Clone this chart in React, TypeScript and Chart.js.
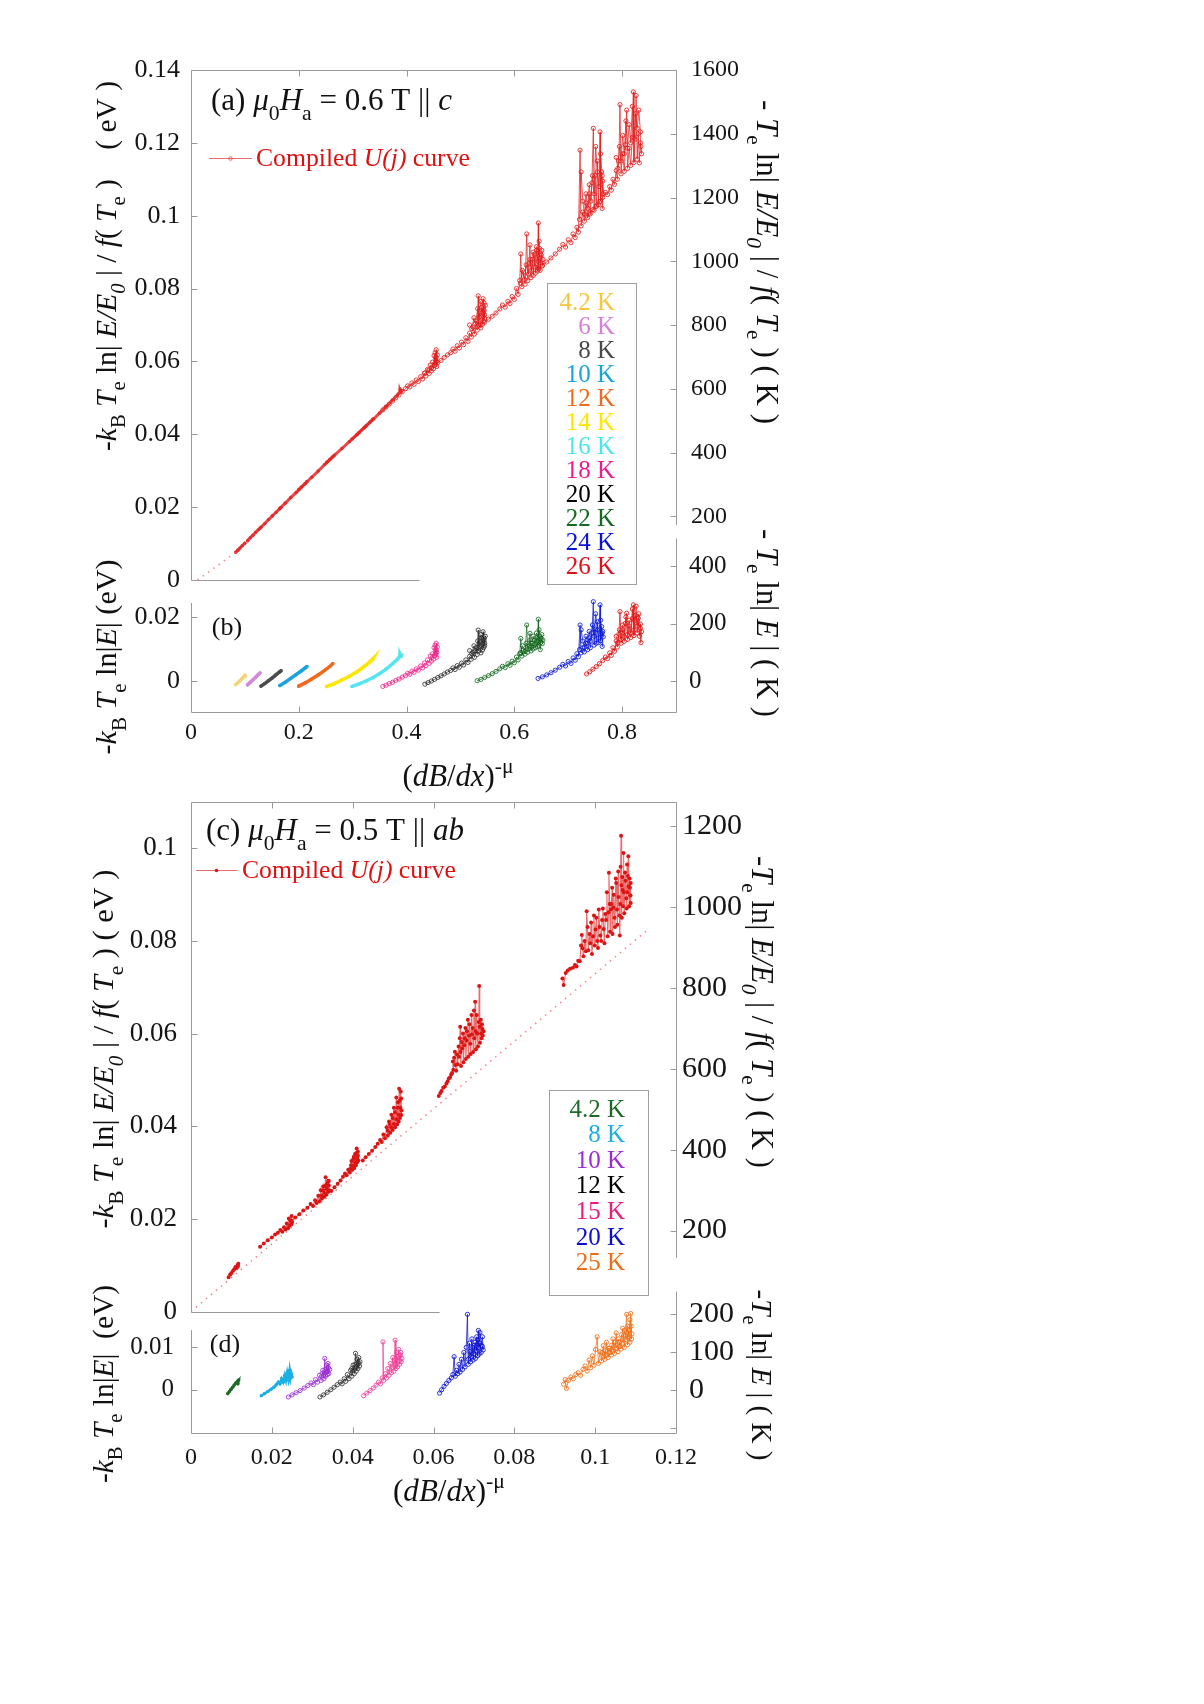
import React, { useEffect, useRef } from 'react';
import { Chart, registerables } from 'chart.js';
Chart.register(...registerables);

type P = [number, number];
const FONT = '"Liberation Serif", "Times New Roman", serif';
const AXC = '#9a9a9a';

// ---------------- Panel (b): -kB Te ln|E| (eV) vs (dB/dx)^-mu, 0.6 T || c ----------------
const bTemps = ['4.2 K', '6 K', '8 K', '10 K', '12 K', '14 K', '16 K', '18 K', '20 K', '22 K', '24 K', '26 K'];
const bLegendColors = ['#f8c53c', '#d97fd9', '#4a4a4a', '#18a2e0', '#f26a1a', '#ffe600', '#4ae6ef', '#ef1d8c', '#000000', '#146a22', '#0a12d6', '#e0101a'];
const bDataColors = ['#f3d57c', '#d38ad6', '#4d4d4d', '#1ba3df', '#ef6a1d', '#fce500', '#55e4f0', '#ee2a8e', '#333333', '#1a6b25', '#0d1bd3', '#e01515'];

const b42: P[] = [[0.083, -0.0011], [0.087, -0.0005], [0.091, 0.0001], [0.095, 0.0008], [0.099, 0.0015], [0.1, 0.0018]];
const b6: P[] = [[0.105, -0.0012], [0.11, -0.0004], [0.115, 0.0004], [0.12, 0.0012], [0.125, 0.002], [0.128, 0.0025]];
const b8: P[] = [[0.13, -0.0016], [0.137, -0.0008], [0.144, 0.0001], [0.151, 0.001], [0.158, 0.002], [0.164, 0.0028], [0.167, 0.0032]];
const b10: P[] = [[0.165, -0.0014], [0.175, -0.0004], [0.185, 0.0008], [0.195, 0.002], [0.205, 0.0032], [0.212, 0.0041], [0.215, 0.0045]];
const b12: P[] = [[0.2, -0.0016], [0.212, -0.0006], [0.224, 0.0006], [0.236, 0.0019], [0.248, 0.0033], [0.258, 0.0046], [0.263, 0.0054]];
const b14: P[] = [[0.252, -0.0017], [0.266, -0.0008], [0.28, 0.0003], [0.294, 0.0015], [0.308, 0.0029], [0.322, 0.0046], [0.332, 0.006], [0.338, 0.007], [0.336, 0.0064]];
const b16: P[] = [[0.299, -0.0017], [0.312, -0.0009], [0.325, 0.0], [0.338, 0.0011], [0.35, 0.0023], [0.362, 0.0037], [0.374, 0.0054], [0.383, 0.0068], [0.389, 0.008], [0.388, 0.0084], [0.39, 0.0077]];
const b18: P[] = [[0.356, -0.0017], [0.362, -0.0013], [0.368, -0.0008], [0.374, -0.0004], [0.38, 0.0002], [0.386, 0.0006], [0.392, 0.0012], [0.398, 0.0017], [0.402, 0.0024], [0.406, 0.0021], [0.41, 0.0031], [0.414, 0.0027], [0.418, 0.0038], [0.422, 0.0034], [0.426, 0.0047], [0.43, 0.0041], [0.433, 0.0056], [0.436, 0.0048], [0.439, 0.0066], [0.442, 0.0055], [0.444, 0.0078], [0.446, 0.0062], [0.448, 0.0085], [0.45, 0.0068], [0.451, 0.0104], [0.452, 0.0079], [0.453, 0.0112], [0.454, 0.0084], [0.455, 0.0097], [0.456, 0.0074], [0.457, 0.0106], [0.455, 0.0118], [0.456, 0.0089]];
const b20: P[] = [[0.434, -0.001], [0.44, -0.0005], [0.446, 0.0], [0.452, 0.0005], [0.458, 0.0011], [0.464, 0.0016], [0.47, 0.0022], [0.476, 0.0028], [0.482, 0.0033], [0.486, 0.0041], [0.49, 0.0036], [0.494, 0.0048], [0.498, 0.0043], [0.502, 0.0056], [0.506, 0.005], [0.51, 0.0066], [0.514, 0.0058], [0.517, 0.0077], [0.52, 0.0068], [0.523, 0.009], [0.526, 0.0074], [0.529, 0.0104], [0.531, 0.0083], [0.533, 0.0159], [0.534, 0.0094], [0.536, 0.0122], [0.538, 0.0088], [0.539, 0.0135], [0.541, 0.0097], [0.542, 0.0154], [0.543, 0.0104], [0.544, 0.0128], [0.545, 0.011], [0.546, 0.014], [0.545, 0.0118], [0.544, 0.0135], [0.541, 0.0118], [0.538, 0.0145], [0.535, 0.0108], [0.532, 0.0125], [0.528, 0.0095], [0.525, 0.011], [0.521, 0.0085], [0.517, 0.0095]];
const b22: P[] = [[0.531, 0.0001], [0.538, 0.0005], [0.545, 0.0011], [0.552, 0.0017], [0.559, 0.0023], [0.566, 0.003], [0.573, 0.0038], [0.578, 0.0046], [0.583, 0.0042], [0.588, 0.0054], [0.592, 0.0049], [0.596, 0.0062], [0.6, 0.0057], [0.604, 0.0075], [0.607, 0.0066], [0.61, 0.0085], [0.612, 0.0133], [0.614, 0.0078], [0.617, 0.0096], [0.62, 0.0084], [0.623, 0.0175], [0.625, 0.009], [0.627, 0.0108], [0.629, 0.0149], [0.631, 0.0094], [0.633, 0.0118], [0.635, 0.01], [0.637, 0.0127], [0.639, 0.0104], [0.641, 0.0135], [0.643, 0.0108], [0.6445, 0.0193], [0.645, 0.0112], [0.647, 0.014], [0.648, 0.0098], [0.65, 0.0132], [0.652, 0.0117], [0.653, 0.0128], [0.651, 0.0145], [0.649, 0.012], [0.646, 0.016], [0.644, 0.0125], [0.641, 0.015], [0.638, 0.0115], [0.635, 0.014], [0.632, 0.0108], [0.629, 0.0128], [0.626, 0.01], [0.622, 0.0118], [0.619, 0.0092], [0.615, 0.011], [0.611, 0.0088]];
const b24: P[] = [[0.644, 0.0008], [0.652, 0.0013], [0.66, 0.0019], [0.668, 0.0026], [0.676, 0.0034], [0.684, 0.0043], [0.69, 0.0052], [0.695, 0.0047], [0.7, 0.0061], [0.705, 0.0055], [0.709, 0.0072], [0.713, 0.0065], [0.716, 0.0085], [0.719, 0.0076], [0.722, 0.0175], [0.724, 0.0088], [0.727, 0.0104], [0.73, 0.0091], [0.733, 0.0118], [0.736, 0.0098], [0.739, 0.0135], [0.741, 0.0104], [0.744, 0.015], [0.7466, 0.0248], [0.748, 0.0112], [0.75, 0.0162], [0.752, 0.0118], [0.754, 0.0185], [0.756, 0.012], [0.759, 0.0238], [0.76, 0.0126], [0.762, 0.017], [0.763, 0.0108], [0.764, 0.0155], [0.765, 0.0138], [0.763, 0.015], [0.76, 0.019], [0.757, 0.0135], [0.754, 0.016], [0.751, 0.021], [0.748, 0.014], [0.745, 0.0175], [0.742, 0.0125], [0.739, 0.0155], [0.736, 0.0118], [0.733, 0.014], [0.73, 0.0105], [0.727, 0.0125], [0.724, 0.016], [0.721, 0.0098]];
const b26: P[] = [[0.734, 0.0022], [0.74, 0.0029], [0.746, 0.0037], [0.752, 0.0045], [0.758, 0.0054], [0.764, 0.0064], [0.769, 0.0075], [0.773, 0.007], [0.777, 0.0088], [0.78, 0.008], [0.783, 0.0104], [0.786, 0.0093], [0.789, 0.0125], [0.791, 0.0106], [0.794, 0.0146], [0.796, 0.0217], [0.798, 0.0118], [0.801, 0.016], [0.804, 0.0124], [0.806, 0.018], [0.8085, 0.0212], [0.81, 0.013], [0.813, 0.0172], [0.816, 0.0136], [0.819, 0.0195], [0.8208, 0.0238], [0.822, 0.0142], [0.824, 0.019], [0.826, 0.0234], [0.828, 0.015], [0.83, 0.0196], [0.832, 0.014], [0.834, 0.0178], [0.836, 0.0154], [0.835, 0.012], [0.834, 0.0165], [0.831, 0.021], [0.828, 0.0172], [0.825, 0.0205], [0.822, 0.016], [0.819, 0.0225], [0.816, 0.015], [0.813, 0.019], [0.81, 0.0145], [0.807, 0.02], [0.804, 0.014], [0.801, 0.0175], [0.798, 0.013], [0.795, 0.016], [0.792, 0.012], [0.789, 0.014]];
const bSeries = [b42, b6, b8, b10, b12, b14, b16, b18, b20, b22, b24, b26];

// ---------------- Panel (a): compiled U(j) curve (eV), segments per temperature ----------------
const a42: P[] = [[0.083, 0.0076], [0.087, 0.0082], [0.091, 0.0088], [0.095, 0.0094], [0.1, 0.0101]];
const a6: P[] = [[0.105, 0.0108], [0.11, 0.0116], [0.115, 0.0123], [0.12, 0.0131], [0.125, 0.0138], [0.128, 0.0142]];
const a8: P[] = [[0.13, 0.0145], [0.137, 0.0155], [0.144, 0.0166], [0.151, 0.0176], [0.158, 0.0186], [0.164, 0.0195], [0.167, 0.0199]];
const a10: P[] = [[0.165, 0.0197], [0.175, 0.0211], [0.185, 0.0226], [0.195, 0.024], [0.205, 0.0255], [0.212, 0.0265], [0.215, 0.027]];
const a12: P[] = [[0.2, 0.0248], [0.212, 0.0265], [0.224, 0.0282], [0.236, 0.0299], [0.248, 0.0317], [0.258, 0.0331], [0.263, 0.0338]];
const a14: P[] = [[0.252, 0.0323], [0.266, 0.0342], [0.28, 0.0361], [0.294, 0.038], [0.308, 0.0399], [0.322, 0.0419], [0.332, 0.0433], [0.338, 0.0442]];
const a16: P[] = [[0.299, 0.0387], [0.312, 0.0405], [0.325, 0.0423], [0.338, 0.0441], [0.35, 0.0458], [0.362, 0.0476], [0.374, 0.0494], [0.383, 0.0508], [0.389, 0.052], [0.388, 0.0523], [0.39, 0.0517]];
const a18: P[] = [[0.356, 0.0467], [0.362, 0.0475], [0.368, 0.0483], [0.374, 0.0491], [0.38, 0.05], [0.386, 0.0508], [0.392, 0.0517], [0.398, 0.0525], [0.402, 0.0533], [0.406, 0.053], [0.41, 0.0541], [0.414, 0.0537], [0.418, 0.0549], [0.422, 0.0545], [0.426, 0.0558], [0.43, 0.0552], [0.433, 0.0568], [0.436, 0.056], [0.439, 0.0578], [0.442, 0.0567], [0.444, 0.059], [0.446, 0.0574], [0.448, 0.0598], [0.45, 0.058], [0.451, 0.0616], [0.452, 0.059], [0.453, 0.0624], [0.454, 0.0596], [0.455, 0.061], [0.456, 0.0586], [0.457, 0.0618], [0.455, 0.0632], [0.456, 0.06]];
const a20: P[] = [[0.434, 0.0568], [0.44, 0.0575], [0.446, 0.0582], [0.452, 0.0589], [0.458, 0.0597], [0.464, 0.0603], [0.47, 0.0611], [0.476, 0.0618], [0.482, 0.0624], [0.486, 0.0634], [0.49, 0.0628], [0.494, 0.0643], [0.498, 0.0637], [0.502, 0.0653], [0.506, 0.0646], [0.51, 0.0665], [0.514, 0.0655], [0.517, 0.0678], [0.52, 0.0667], [0.523, 0.0694], [0.526, 0.0675], [0.529, 0.0711], [0.531, 0.0686], [0.533, 0.078], [0.534, 0.0699], [0.536, 0.0733], [0.538, 0.0692], [0.539, 0.0748], [0.541, 0.0702], [0.542, 0.0772], [0.543, 0.071], [0.544, 0.074], [0.545, 0.0718], [0.546, 0.0754], [0.545, 0.0728], [0.544, 0.076], [0.541, 0.0735], [0.538, 0.0765], [0.535, 0.0722], [0.532, 0.0745], [0.528, 0.0705], [0.525, 0.072], [0.521, 0.069], [0.517, 0.07]];
const a22: P[] = [[0.531, 0.0695], [0.538, 0.07], [0.545, 0.0708], [0.552, 0.0716], [0.559, 0.0724], [0.566, 0.0733], [0.573, 0.0744], [0.578, 0.0755], [0.583, 0.0749], [0.588, 0.0765], [0.592, 0.0759], [0.596, 0.0778], [0.6, 0.077], [0.604, 0.08], [0.607, 0.0784], [0.61, 0.0822], [0.612, 0.0895], [0.614, 0.0805], [0.617, 0.0845], [0.62, 0.0812], [0.623, 0.095], [0.625, 0.0822], [0.627, 0.0868], [0.629, 0.092], [0.631, 0.083], [0.633, 0.088], [0.635, 0.0836], [0.637, 0.0894], [0.639, 0.0842], [0.641, 0.0905], [0.643, 0.0848], [0.6445, 0.098], [0.645, 0.0853], [0.647, 0.091], [0.648, 0.085], [0.65, 0.0892], [0.652, 0.0862], [0.653, 0.088], [0.651, 0.0905], [0.649, 0.087], [0.646, 0.093], [0.644, 0.0875], [0.641, 0.0915], [0.638, 0.086], [0.635, 0.09], [0.632, 0.085], [0.629, 0.088], [0.626, 0.084], [0.622, 0.0865], [0.619, 0.0825], [0.615, 0.085], [0.611, 0.0815]];
const a24: P[] = [[0.644, 0.0856], [0.652, 0.0864], [0.66, 0.0873], [0.668, 0.0884], [0.676, 0.0895], [0.684, 0.0908], [0.69, 0.0921], [0.695, 0.0914], [0.7, 0.0934], [0.705, 0.0926], [0.709, 0.095], [0.713, 0.094], [0.716, 0.0968], [0.719, 0.0955], [0.722, 0.118], [0.724, 0.0972], [0.727, 0.101], [0.73, 0.0985], [0.733, 0.1035], [0.736, 0.0995], [0.739, 0.106], [0.741, 0.1005], [0.744, 0.109], [0.7466, 0.124], [0.748, 0.1015], [0.75, 0.111], [0.752, 0.1025], [0.754, 0.115], [0.756, 0.103], [0.759, 0.123], [0.76, 0.104], [0.762, 0.112], [0.763, 0.102], [0.764, 0.1095], [0.765, 0.106], [0.763, 0.111], [0.76, 0.117], [0.757, 0.108], [0.754, 0.112], [0.751, 0.119], [0.748, 0.106], [0.745, 0.111], [0.742, 0.104], [0.739, 0.1085], [0.736, 0.102], [0.733, 0.106], [0.73, 0.1005], [0.727, 0.104], [0.724, 0.112], [0.721, 0.099]];
const a26: P[] = [[0.734, 0.1], [0.74, 0.1008], [0.746, 0.1017], [0.752, 0.1027], [0.758, 0.1038], [0.764, 0.105], [0.769, 0.1064], [0.773, 0.1058], [0.777, 0.108], [0.78, 0.107], [0.783, 0.11], [0.786, 0.1086], [0.789, 0.1124], [0.791, 0.11], [0.794, 0.115], [0.796, 0.1305], [0.798, 0.1115], [0.801, 0.117], [0.804, 0.1122], [0.806, 0.1195], [0.8085, 0.129], [0.81, 0.113], [0.813, 0.1185], [0.816, 0.1138], [0.819, 0.1215], [0.8208, 0.134], [0.822, 0.1146], [0.824, 0.121], [0.826, 0.133], [0.828, 0.1155], [0.83, 0.1225], [0.832, 0.1145], [0.834, 0.12], [0.836, 0.117], [0.835, 0.119], [0.834, 0.123], [0.831, 0.129], [0.828, 0.124], [0.825, 0.128], [0.822, 0.1215], [0.819, 0.13], [0.816, 0.12], [0.813, 0.125], [0.81, 0.1185], [0.807, 0.126], [0.804, 0.117], [0.801, 0.122], [0.798, 0.115], [0.795, 0.119], [0.792, 0.113], [0.789, 0.116]];
const aSeries = [a42, a6, a8, a10, a12, a14, a16, a18, a20, a22, a24, a26];
const aFitLine: P[] = [[0.012, 0.0], [0.085, 0.0078]];

// ---------------- Panel (d): -kB Te ln|E| (eV), 0.5 T || ab ----------------
const dTemps = ['4.2 K', '8 K', '10 K', '12 K', '15 K', '20 K', '25 K'];
const dLegendColors = ['#1e6b28', '#1aafe6', '#9b2bd6', '#000000', '#f0197f', '#0a0fcf', '#f06c14'];
const dDataColors = ['#1e6b28', '#1aafe6', '#9b2bd6', '#333333', '#f0419a', '#0a12cf', '#f06c14'];
const d42: P[] = [[0.0091, -0.0009], [0.0095, -0.0004], [0.0099, 0.0001], [0.0103, 0.0006], [0.0107, 0.0011], [0.0111, 0.0016], [0.0115, 0.002], [0.0118, 0.0023], [0.0116, 0.0014]];
const d8: P[] = [[0.0174, -0.0014], [0.0182, -0.0009], [0.019, -0.0004], [0.0198, 0.0001], [0.0205, 0.0006], [0.0211, 0.0012], [0.0216, 0.0018], [0.022, 0.0014], [0.0224, 0.0026], [0.0228, 0.0018], [0.0232, 0.0034], [0.0235, 0.0022], [0.0238, 0.004], [0.0241, 0.0025], [0.0244, 0.0046], [0.0246, 0.0028], [0.0248, 0.0038], [0.025, 0.003]];
const d10: P[] = [[0.0241, -0.0017], [0.025, -0.0012], [0.026, -0.0007], [0.027, -0.0002], [0.028, 0.0004], [0.0289, 0.001], [0.0297, 0.0016], [0.0303, 0.0012], [0.0308, 0.0024], [0.0313, 0.0018], [0.0318, 0.0034], [0.0322, 0.0022], [0.0326, 0.0046], [0.0329, 0.0026], [0.0331, 0.0074], [0.0333, 0.0032], [0.0335, 0.0058], [0.0337, 0.0036], [0.0339, 0.0062], [0.0341, 0.0038], [0.0343, 0.0048], [0.034, 0.0052], [0.0336, 0.0042], [0.0332, 0.0048], [0.0328, 0.0034], [0.0324, 0.0038]];
const d12: P[] = [[0.0319, -0.0017], [0.0328, -0.0012], [0.0337, -0.0006], [0.0346, 0.0], [0.0354, 0.0006], [0.0362, 0.0012], [0.0369, 0.0018], [0.0374, 0.0014], [0.0379, 0.0026], [0.0383, 0.002], [0.0387, 0.0036], [0.0391, 0.0026], [0.0395, 0.0046], [0.0398, 0.0032], [0.0401, 0.0058], [0.0404, 0.0038], [0.0407, 0.0086], [0.0409, 0.0044], [0.0411, 0.0072], [0.0413, 0.005], [0.0415, 0.0076], [0.0417, 0.0056], [0.0418, 0.0066], [0.0414, 0.0064], [0.041, 0.0055], [0.0406, 0.006], [0.0402, 0.0046], [0.0398, 0.005]];
const d15: P[] = [[0.0427, -0.0014], [0.0435, -0.0008], [0.0443, -0.0002], [0.0451, 0.0004], [0.0458, 0.0011], [0.0464, 0.0018], [0.0469, 0.0014], [0.0473, 0.0028], [0.0475, 0.0113], [0.0477, 0.0022], [0.0481, 0.0038], [0.0484, 0.0028], [0.0487, 0.005], [0.049, 0.0034], [0.0493, 0.0062], [0.0496, 0.004], [0.0499, 0.0076], [0.0502, 0.0044], [0.0505, 0.0117], [0.0507, 0.005], [0.0509, 0.0088], [0.0511, 0.0054], [0.0514, 0.0095], [0.0516, 0.006], [0.0518, 0.0082], [0.052, 0.0066], [0.0522, 0.0074], [0.0519, 0.0088], [0.0515, 0.0068], [0.0511, 0.0078], [0.0507, 0.006], [0.0503, 0.007], [0.0499, 0.0052]];
const d20: P[] = [[0.0615, -0.0008], [0.062, 0.0], [0.0626, 0.0008], [0.0632, 0.0015], [0.0638, 0.0022], [0.0644, 0.0028], [0.0648, 0.0036], [0.0651, 0.0078], [0.0654, 0.0032], [0.0657, 0.0046], [0.066, 0.0038], [0.0663, 0.006], [0.0666, 0.0042], [0.0669, 0.0072], [0.0672, 0.0048], [0.0675, 0.0088], [0.0678, 0.0054], [0.0681, 0.01], [0.0684, 0.0178], [0.0686, 0.006], [0.0689, 0.011], [0.0692, 0.0066], [0.0695, 0.012], [0.0698, 0.007], [0.0701, 0.0105], [0.0704, 0.0074], [0.0707, 0.0125], [0.0709, 0.008], [0.0711, 0.014], [0.0713, 0.0084], [0.0715, 0.011], [0.0718, 0.0088], [0.0721, 0.0102], [0.0723, 0.0094], [0.0721, 0.0125], [0.0718, 0.0105], [0.0715, 0.0135], [0.0712, 0.01], [0.0709, 0.0118], [0.0706, 0.0092], [0.0703, 0.0112], [0.07, 0.0085], [0.0697, 0.01], [0.0694, 0.0078], [0.069, 0.009], [0.0686, 0.0072]];
const d25: P[] = [[0.0922, 0.0013], [0.0926, 0.0024], [0.0929, 0.0003], [0.0934, 0.0022], [0.094, 0.003], [0.0946, 0.0026], [0.0952, 0.0036], [0.0958, 0.004], [0.0964, 0.0034], [0.097, 0.0048], [0.0975, 0.0056], [0.098, 0.0044], [0.0985, 0.007], [0.0989, 0.0052], [0.0993, 0.008], [0.0997, 0.0058], [0.1001, 0.0095], [0.1005, 0.0125], [0.1008, 0.0062], [0.1012, 0.009], [0.1016, 0.0068], [0.102, 0.0104], [0.1024, 0.0072], [0.1028, 0.0112], [0.1032, 0.0076], [0.1036, 0.0098], [0.104, 0.0082], [0.1044, 0.012], [0.1048, 0.0086], [0.1052, 0.0134], [0.1056, 0.009], [0.106, 0.0112], [0.1064, 0.0096], [0.1068, 0.0145], [0.1072, 0.01], [0.1075, 0.0128], [0.1078, 0.0178], [0.108, 0.0106], [0.1083, 0.014], [0.1086, 0.0112], [0.1088, 0.018], [0.109, 0.012], [0.1091, 0.0132], [0.1089, 0.015], [0.1086, 0.0165], [0.1083, 0.0125], [0.108, 0.015], [0.1077, 0.0118], [0.1073, 0.014], [0.1069, 0.011], [0.1065, 0.013], [0.1061, 0.0102], [0.1057, 0.012], [0.1053, 0.0098], [0.1049, 0.0112], [0.1045, 0.0092], [0.1041, 0.0105], [0.1037, 0.0088], [0.1033, 0.0098], [0.1029, 0.0082], [0.1025, 0.0092], [0.1021, 0.0078], [0.1017, 0.0088]];
const dSeries = [d42, d8, d10, d12, d15, d20, d25];

// ---------------- Panel (c): compiled U(j) curve (eV) ----------------
const c42: P[] = [[0.0093, 0.0074], [0.0097, 0.008], [0.01, 0.0083], [0.0104, 0.0088], [0.0107, 0.0091], [0.011, 0.0096], [0.0113, 0.0094], [0.0115, 0.01], [0.0117, 0.0103], [0.0116, 0.0097]];
const c8: P[] = [[0.0171, 0.014], [0.018, 0.0147], [0.019, 0.0154], [0.02, 0.016], [0.0208, 0.0166], [0.0215, 0.017], [0.0221, 0.0176], [0.0226, 0.0172], [0.023, 0.0182], [0.0234, 0.0177], [0.0237, 0.019], [0.024, 0.018], [0.0242, 0.0201], [0.0244, 0.0185], [0.0246, 0.0196], [0.0248, 0.0188], [0.0249, 0.0206], [0.025, 0.0192]];
const c10: P[] = [[0.0249, 0.0196], [0.0258, 0.0203], [0.0268, 0.021], [0.0278, 0.0218], [0.0288, 0.0224], [0.0296, 0.0232], [0.0302, 0.0228], [0.0307, 0.024], [0.0311, 0.0234], [0.0315, 0.025], [0.0318, 0.0238], [0.0321, 0.0262], [0.0324, 0.0244], [0.0327, 0.027], [0.033, 0.0248], [0.0333, 0.029], [0.0335, 0.0252], [0.0337, 0.0276], [0.0339, 0.0258], [0.0341, 0.0282], [0.0342, 0.0262], [0.0341, 0.0272], [0.0339, 0.0282], [0.0336, 0.0265], [0.0333, 0.0272], [0.033, 0.0256], [0.0327, 0.0262], [0.0323, 0.025]];
const c12: P[] = [[0.0347, 0.026], [0.0355, 0.0268], [0.0363, 0.0276], [0.037, 0.0283], [0.0376, 0.0291], [0.0381, 0.0298], [0.0385, 0.0294], [0.0389, 0.0306], [0.0393, 0.03], [0.0396, 0.0316], [0.0399, 0.0306], [0.0402, 0.033], [0.0404, 0.031], [0.0406, 0.034], [0.0408, 0.0316], [0.041, 0.0352], [0.0411, 0.0322], [0.0413, 0.0336], [0.0414, 0.0326], [0.0413, 0.0345], [0.0411, 0.033], [0.0409, 0.0342], [0.0406, 0.0322], [0.0403, 0.0334], [0.04, 0.0314], [0.0397, 0.0325], [0.0394, 0.0308]];
const c15: P[] = [[0.0425, 0.0326], [0.0432, 0.0333], [0.044, 0.034], [0.0448, 0.0347], [0.0456, 0.0355], [0.0462, 0.0362], [0.0468, 0.037], [0.0472, 0.0366], [0.0476, 0.0382], [0.048, 0.0374], [0.0484, 0.0398], [0.0487, 0.038], [0.049, 0.041], [0.0493, 0.0386], [0.0496, 0.0425], [0.0499, 0.0392], [0.0502, 0.044], [0.0505, 0.0398], [0.0508, 0.0462], [0.051, 0.0404], [0.0512, 0.0452], [0.0514, 0.041], [0.0515, 0.0481], [0.0517, 0.0418], [0.0519, 0.0475], [0.052, 0.0424], [0.0521, 0.0434], [0.052, 0.046], [0.0518, 0.044], [0.0516, 0.0455], [0.0513, 0.0425], [0.0511, 0.044], [0.0508, 0.0415], [0.0505, 0.043], [0.0502, 0.0405], [0.0499, 0.0418], [0.0495, 0.0398], [0.0491, 0.0405], [0.0487, 0.039]];
const c20: P[] = [[0.0613, 0.0465], [0.0617, 0.0472], [0.062, 0.0476], [0.0624, 0.0483], [0.0628, 0.0486], [0.0632, 0.0492], [0.0635, 0.0497], [0.0638, 0.0503], [0.0641, 0.0506], [0.0644, 0.0512], [0.0646, 0.0515], [0.0648, 0.054], [0.0649, 0.0522], [0.0651, 0.0548], [0.0653, 0.0561], [0.0654, 0.0532], [0.0656, 0.052], [0.0658, 0.0555], [0.066, 0.0534], [0.0662, 0.0572], [0.0663, 0.055], [0.0665, 0.059], [0.0666, 0.0615], [0.0667, 0.056], [0.0668, 0.053], [0.067, 0.0582], [0.0671, 0.0568], [0.0673, 0.06], [0.0674, 0.0538], [0.0676, 0.0575], [0.0677, 0.059], [0.0679, 0.0612], [0.068, 0.0545], [0.0682, 0.0585], [0.0683, 0.0605], [0.0685, 0.063], [0.0686, 0.055], [0.0688, 0.0596], [0.0689, 0.062], [0.0691, 0.0578], [0.0692, 0.0556], [0.0694, 0.064], [0.0695, 0.0598], [0.0697, 0.0612], [0.0698, 0.056], [0.07, 0.065], [0.0701, 0.059], [0.0703, 0.0669], [0.0704, 0.0605], [0.0705, 0.0566], [0.0707, 0.064], [0.0708, 0.06], [0.071, 0.0572], [0.0712, 0.0625], [0.0713, 0.0703], [0.0714, 0.0615], [0.0715, 0.058], [0.0717, 0.063], [0.0718, 0.06], [0.0719, 0.059], [0.072, 0.062], [0.0721, 0.061], [0.0722, 0.0596], [0.0724, 0.0605]];
const c25: P[] = [[0.0919, 0.0719], [0.0922, 0.0705], [0.0927, 0.0731], [0.0932, 0.0736], [0.0938, 0.074], [0.0945, 0.0742], [0.095, 0.0748], [0.0954, 0.0745], [0.0958, 0.0757], [0.0962, 0.0756], [0.0965, 0.079], [0.0967, 0.0813], [0.0969, 0.0784], [0.0971, 0.0767], [0.0974, 0.08], [0.0977, 0.0778], [0.0979, 0.0864], [0.0981, 0.083], [0.0983, 0.078], [0.0986, 0.0815], [0.0988, 0.0795], [0.099, 0.084], [0.0992, 0.0772], [0.0995, 0.081], [0.0997, 0.0855], [0.0999, 0.079], [0.1001, 0.0825], [0.1003, 0.085], [0.1005, 0.08], [0.1007, 0.0785], [0.1009, 0.0868], [0.1011, 0.083], [0.1013, 0.0812], [0.1015, 0.08], [0.1017, 0.0845], [0.1019, 0.087], [0.1021, 0.0826], [0.1023, 0.0795], [0.1025, 0.0858], [0.1027, 0.0845], [0.1029, 0.0905], [0.1031, 0.081], [0.1033, 0.0862], [0.1034, 0.0947], [0.1036, 0.088], [0.1037, 0.082], [0.1039, 0.0868], [0.104, 0.088], [0.1042, 0.0915], [0.1043, 0.0815], [0.1045, 0.0872], [0.1046, 0.09], [0.1048, 0.085], [0.1049, 0.083], [0.1051, 0.0935], [0.1052, 0.0925], [0.1054, 0.0868], [0.1055, 0.0835], [0.1057, 0.095], [0.1058, 0.0895], [0.106, 0.0855], [0.1061, 0.0812], [0.1062, 0.088], [0.1063, 0.096], [0.1064, 0.1027], [0.1065, 0.092], [0.1066, 0.085], [0.1067, 0.0938], [0.1068, 0.091], [0.1069, 0.0875], [0.107, 0.099], [0.1071, 0.0905], [0.1072, 0.086], [0.1074, 0.0948], [0.1075, 0.093], [0.1077, 0.0892], [0.1078, 0.087], [0.1079, 0.0965], [0.108, 0.0905], [0.1081, 0.094], [0.1082, 0.0983], [0.1083, 0.0918], [0.1084, 0.0875], [0.1085, 0.0935], [0.1086, 0.0915], [0.1087, 0.0898], [0.1088, 0.0882], [0.1088, 0.0925], [0.1087, 0.0898]];
const cSeries = [c42, c8, c10, c12, c15, c20, c25];
const cFitLine: P[] = [[0.0, 0.0], [0.1134, 0.0827]];

// ---------------- Tick values / labels ----------------
const abXTicks = [0, 0.2, 0.4, 0.6, 0.8];
const abXLabels = ['0', '0.2', '0.4', '0.6', '0.8'];
const aYTicks = [0, 0.02, 0.04, 0.06, 0.08, 0.1, 0.12, 0.14];
const aYLabels = ['0', '0.02', '0.04', '0.06', '0.08', '0.1', '0.12', '0.14'];
const aY2Ticks = [200, 400, 600, 800, 1000, 1200, 1400, 1600];
const aY2Labels = ['200', '400', '600', '800', '1000', '1200', '1400', '1600'];
const bYTicks = [0, 0.02];
const bYLabels = ['0', '0.02'];
const bY2Ticks = [0, 200, 400];
const bY2Labels = ['0', '200', '400'];
const cdXTicks = [0, 0.02, 0.04, 0.06, 0.08, 0.1, 0.12];
const cdXLabels = ['0', '0.02', '0.04', '0.06', '0.08', '0.1', '0.12'];
const cYTicks = [0, 0.02, 0.04, 0.06, 0.08, 0.1];
const cYLabels = ['0', '0.02', '0.04', '0.06', '0.08', '0.1'];
const cY2Ticks = [200, 400, 600, 800, 1000, 1200];
const cY2Labels = ['200', '400', '600', '800', '1000', '1200'];
const dYTicks = [0, 0.01];
const dYLabels = ['0', '0.01'];
const dY2Ticks = [0, 100, 200];
const dY2Labels = ['0', '100', '200'];

// ---------------- helpers ----------------
type Run = { t: string; i?: boolean; sub?: boolean; sup?: boolean };
const runFont = (r: Run, s: number) => `${r.i ? 'italic ' : ''}${(r.sub || r.sup) ? s * 0.7 : s}px ${FONT}`;
function runsWidth(ctx: CanvasRenderingContext2D, runs: Run[], s: number) {
  let w = 0;
  for (const r of runs) { ctx.font = runFont(r, s); w += ctx.measureText(r.t).width; }
  return w;
}
function drawRuns(ctx: CanvasRenderingContext2D, runs: Run[], x: number, y: number, o: any) {
  let s = o.size ?? 24;
  if (o.fit) s = 20 * o.fit / runsWidth(ctx, runs, 20);
  const w = runsWidth(ctx, runs, s);
  ctx.save();
  ctx.translate(x, y);
  ctx.rotate(o.rot ?? 0);
  ctx.fillStyle = o.color ?? '#111';
  ctx.textBaseline = 'alphabetic';
  ctx.textAlign = 'left';
  let cx = o.align === 'center' ? -w / 2 : o.align === 'right' ? -w : 0;
  for (const r of runs) {
    ctx.font = runFont(r, s);
    const dy = r.sub ? s * 0.32 : r.sup ? -s * 0.42 : 0;
    ctx.fillText(r.t, cx, s * 0.33 + dy);
    cx += ctx.measureText(r.t).width;
  }
  ctx.restore();
}
function seg(ctx: CanvasRenderingContext2D, x1: number, y1: number, x2: number, y2: number) {
  ctx.beginPath(); ctx.moveTo(x1, y1); ctx.lineTo(x2, y2); ctx.stroke();
}
const R = (v: number) => Math.round(v) + 0.5;
function rgba(hex: string, a: number) {
  const n = parseInt(hex.slice(1), 16);
  return `rgba(${(n >> 16) & 255},${(n >> 8) & 255},${n & 255},${a})`;
}

const AXW = 120;
function yScale(pos: string, min: number, max: number, ticks: number[], labels: string[], size: number, pad: number) {
  return {
    type: 'linear', position: pos, min, max,
    grid: { display: false, drawTicks: false }, border: { display: false },
    ticks: {
      autoSkip: false, padding: pad, color: '#151515', font: { family: FONT, size },
      callback: (v: number) => { const k = ticks.findIndex((t) => Math.abs(t - v) < 1e-9); return k >= 0 ? labels[k] : ''; },
    },
    afterBuildTicks: (s: any) => { s.ticks = ticks.map((v) => ({ value: v })); },
    afterFit: (s: any) => { s.width = AXW; },
  };
}
function xScale(min: number, max: number, show: boolean, ticks: number[], labels: string[], pad: number) {
  return {
    type: 'linear', position: 'bottom', min, max, display: show,
    grid: { display: false, drawTicks: false }, border: { display: false },
    ticks: {
      autoSkip: false, maxRotation: 0, padding: pad, color: '#151515', font: { family: FONT, size: 24 },
      callback: (v: number) => { const k = ticks.findIndex((t) => Math.abs(t - v) < 1e-9); return k >= 0 ? labels[k] : ''; },
    },
    afterBuildTicks: (s: any) => { s.ticks = ticks.map((v) => ({ value: v })); },
    afterFit: (s: any) => { s.height = show ? 50 : 0; },
  };
}

const noisy = (data: P[], color: string, yAxisID = 'y') => ({
  data: data.map(([x, y]) => ({ x, y })), showLine: true, yAxisID,
  borderColor: rgba(color, 0.75), borderWidth: 1,
  pointRadius: 2.1, pointBorderWidth: 1, pointBorderColor: rgba(color, 0.85), pointBackgroundColor: 'rgba(255,255,255,0)',
});
const thick = (data: P[], color: string, w = 3.5) => ({
  data: data.map(([x, y]) => ({ x, y })), showLine: true, yAxisID: 'y',
  borderColor: color, borderWidth: w, borderCapStyle: 'round',
  pointRadius: 1.8, pointBorderWidth: 0, pointBackgroundColor: color,
});
const dotted = (data: P[]) => ({
  data: data.map(([x, y]) => ({ x, y })), showLine: true, yAxisID: 'y',
  borderColor: 'rgba(240,110,110,0.85)', borderWidth: 1.5, borderDash: [1.5, 5], pointRadius: 0,
});

// ---------------- rich texts ----------------
const leftTitleLong = (tail: string): Run[] => [
  { t: '-' }, { t: 'k', i: true }, { t: 'B', sub: true }, { t: ' ' }, { t: 'T', i: true }, { t: 'e', sub: true },
  { t: ' ln| ' }, { t: 'E/E', i: true }, { t: '0', i: true, sub: true }, { t: ' | / ' }, { t: 'f', i: true }, { t: '( ' },
  { t: 'T', i: true }, { t: 'e', sub: true }, { t: tail },
];
const leftTitleShort = (tail: string): Run[] => [
  { t: '-' }, { t: 'k', i: true }, { t: 'B', sub: true }, { t: ' ' }, { t: 'T', i: true }, { t: 'e', sub: true },
  { t: ' ln|' }, { t: 'E', i: true }, { t: tail },
];
const rightTitleLong = (head: string): Run[] => [
  { t: head }, { t: 'T', i: true }, { t: 'e', sub: true }, { t: ' ln| ' }, { t: 'E/E', i: true }, { t: '0', i: true, sub: true },
  { t: ' | / ' }, { t: 'f', i: true }, { t: '( ' }, { t: 'T', i: true }, { t: 'e', sub: true }, { t: ' ) ( K )' },
];
const rightTitleShort = (head: string): Run[] => [
  { t: head }, { t: 'T', i: true }, { t: 'e', sub: true }, { t: ' ln| ' }, { t: 'E', i: true }, { t: ' | ( K )' },
];
const xTitle: Run[] = [{ t: '(' }, { t: 'dB', i: true }, { t: '/' }, { t: 'dx', i: true }, { t: ')' }, { t: '-\u03bc', sup: true }];
const titleA: Run[] = [{ t: '(a) ' }, { t: '\u03bc', i: true }, { t: '0', sub: true }, { t: 'H', i: true }, { t: 'a', sub: true }, { t: ' = 0.6 T || ' }, { t: 'c', i: true }];
const titleC: Run[] = [{ t: '(c) ' }, { t: '\u03bc', i: true }, { t: '0', sub: true }, { t: 'H', i: true }, { t: 'a', sub: true }, { t: ' = 0.5 T || ' }, { t: 'ab', i: true }];
const compiledText: Run[] = [{ t: 'Compiled ' }, { t: 'U(j)', i: true }, { t: ' curve' }];

function compiledLegend(ctx: CanvasRenderingContext2D, x1: number, x2: number, tx: number, y: number, filled: boolean) {
  ctx.save();
  ctx.strokeStyle = 'rgba(230,70,70,0.8)'; ctx.lineWidth = 1;
  seg(ctx, x1, R(y), x2, R(y));
  ctx.beginPath(); ctx.arc((x1 + x2) / 2, R(y), 1.8, 0, Math.PI * 2);
  if (filled) { ctx.fillStyle = '#d81818'; ctx.fill(); } else { ctx.stroke(); }
  ctx.restore();
  drawRuns(ctx, compiledText, tx, y, { fit: 214, color: '#e01010' });
}

function legendBox(ctx: CanvasRenderingContext2D, x: number, y: number, w: number, h: number, names: string[], colors: string[], rx: number, y0: number, dy: number) {
  ctx.save();
  ctx.strokeStyle = '#a0a0a0'; ctx.lineWidth = 1;
  ctx.strokeRect(R(x), R(y), Math.round(w), Math.round(h));
  ctx.font = `25px ${FONT}`; ctx.textAlign = 'right'; ctx.textBaseline = 'middle';
  names.forEach((n, i) => { ctx.fillStyle = colors[i]; ctx.fillText(n, rx, y0 + i * dy + 1); });
  ctx.restore();
}

function makeChart(canvas: HTMLCanvasElement, datasets: any[], scales: any, padding: any, decor: (c: any) => void) {
  return new Chart(canvas, {
    type: 'scatter',
    data: { datasets },
    options: {
      animation: false, responsive: false, devicePixelRatio: 1,
      layout: { padding },
      plugins: { legend: { display: false }, tooltip: { enabled: false } },
      scales,
    },
    plugins: [{ id: 'decor', afterDraw: (c: any) => decor(c) }],
  } as any);
}

const TL = 6;
const PADL = 191 - AXW;
const PADR = 1204 - 676 - AXW;
function buildA(canvas: HTMLCanvasElement) {
  const ds: any[] = [dotted(aFitLine)];
  aSeries.forEach((s, i) => {
    if (i < 7) ds.push(thick(s, 'rgba(228,40,40,0.85)', 3));
    else ds.push(noisy(s, '#e02020'));
  });
  return makeChart(canvas, ds, {
    x: xScale(0, 0.9, false, abXTicks, abXLabels, 6),
    y: yScale('left', 0, 0.14, aYTicks, aYLabels, 26, 11),
    y2: yScale('right', 0, 1600, aY2Ticks, aY2Labels, 24, 15),
  }, { left: PADL, right: PADR, top: 70, bottom: 1124 }, (c: any) => {
    const ctx = c.ctx, x = c.scales.x, y = c.scales.y, y2 = c.scales.y2;
    const L = R(x.left), Rr = R(x.right), T = R(y.top), B = R(y.bottom);
    ctx.save(); ctx.strokeStyle = AXC; ctx.lineWidth = 1;
    seg(ctx, L, T, L, B); seg(ctx, L, T, Rr, T); seg(ctx, Rr, T, Rr, 525); seg(ctx, L, B, R(x.getPixelForValue(0.424)), B);
    aYTicks.forEach((v) => { const p = R(y.getPixelForValue(v)); seg(ctx, L, p, L + TL, p); });
    aY2Ticks.forEach((v) => { const p = R(y2.getPixelForValue(v)); seg(ctx, Rr, p, Rr - TL, p); });
    abXTicks.slice(1).forEach((v) => { const p = R(x.getPixelForValue(v)); seg(ctx, p, T, p, T + TL); });
    ctx.restore();
    drawRuns(ctx, titleA, 211, 100, { fit: 241 });
    compiledLegend(ctx, 209, 252, 256, 158, false);
    legendBox(ctx, 547, 283, 89, 301, bTemps, bLegendColors, 615, 302, 24);
    drawRuns(ctx, leftTitleLong(' )    ( eV )'), 106, 266, { fit: 370, rot: -Math.PI / 2, align: 'center' });
    drawRuns(ctx, rightTitleLong('- '), 767, 262, { fit: 324, rot: Math.PI / 2, align: 'center' });
  });
}

function buildB(canvas: HTMLCanvasElement) {
  const ds: any[] = bSeries.map((s, i) => (i < 7 ? thick(s, bDataColors[i], 3.5) : noisy(s, bDataColors[i])));
  return makeChart(canvas, ds, {
    x: xScale(0, 0.9, true, abXTicks, abXLabels, 6),
    y: yScale('left', -0.00969, 0.0447, bYTicks, bYLabels, 26, 11),
    y2: yScale('right', -107.8, 497.4, bY2Ticks, bY2Labels, 25, 13),
  }, { left: PADL, right: PADR, top: 538, bottom: 942 }, (c: any) => {
    const ctx = c.ctx, x = c.scales.x, y = c.scales.y, y2 = c.scales.y2;
    const L = R(x.left), Rr = R(x.right), T = R(y.top), B = R(y.bottom);
    ctx.save(); ctx.strokeStyle = AXC; ctx.lineWidth = 1;
    seg(ctx, L, 603, L, B); seg(ctx, L, B, Rr, B); seg(ctx, Rr, T, Rr, B);
    bYTicks.forEach((v) => { const p = R(y.getPixelForValue(v)); seg(ctx, L, p, L + TL, p); });
    bY2Ticks.forEach((v) => { const p = R(y2.getPixelForValue(v)); seg(ctx, Rr, p, Rr - TL, p); });
    abXTicks.slice(1).forEach((v) => { const p = R(x.getPixelForValue(v)); seg(ctx, p, B, p, B - TL); });
    ctx.restore();
    drawRuns(ctx, [{ t: '(b)' }], 227, 626, { size: 26, align: 'center' });
    drawRuns(ctx, xTitle, 458, 776, { fit: 111, align: 'center' });
    drawRuns(ctx, leftTitleShort('| (eV)'), 106, 657, { fit: 195, rot: -Math.PI / 2, align: 'center' });
    drawRuns(ctx, rightTitleShort('- '), 767, 623, { fit: 188, rot: Math.PI / 2, align: 'center' });
  });
}

function buildC(canvas: HTMLCanvasElement) {
  const ds: any[] = [dotted(cFitLine)];
  cSeries.forEach((s) => ds.push({
    data: s.map(([x, y]) => ({ x, y })), showLine: true, yAxisID: 'y',
    borderColor: 'rgba(225,30,30,0.65)', borderWidth: 1.1,
    pointRadius: 2, pointBorderWidth: 0, pointBackgroundColor: '#dc1414',
  }));
  return makeChart(canvas, ds, {
    x: xScale(0, 0.12, false, cdXTicks, cdXLabels, 6),
    y: yScale('left', 0, 0.11, cYTicks, cYLabels, 27, 14),
    y2: yScale('right', 0, 1259, cY2Ticks, cY2Labels, 30, 6),
  }, { left: PADL, right: PADR, top: 802, bottom: 392.5 }, (c: any) => {
    const ctx = c.ctx, x = c.scales.x, y = c.scales.y, y2 = c.scales.y2;
    const L = R(x.left), Rr = R(x.right), T = R(y.top), B = R(y.bottom);
    ctx.save(); ctx.strokeStyle = AXC; ctx.lineWidth = 1;
    seg(ctx, L, T, L, B); seg(ctx, L, T, Rr, T); seg(ctx, Rr, T, Rr, 1258); seg(ctx, L, B, R(x.getPixelForValue(0.0613)), B);
    cYTicks.forEach((v) => { const p = R(y.getPixelForValue(v)); seg(ctx, L, p, L + TL, p); });
    cY2Ticks.forEach((v) => { const p = R(y2.getPixelForValue(v)); seg(ctx, Rr, p, Rr - TL, p); });
    cdXTicks.slice(1, -1).forEach((v) => { const p = R(x.getPixelForValue(v)); seg(ctx, p, T, p, T + TL); });
    ctx.restore();
    drawRuns(ctx, titleC, 206, 830, { fit: 258 });
    compiledLegend(ctx, 196, 237, 242, 870, true);
    legendBox(ctx, 549, 1090, 99, 205, dTemps, dLegendColors, 625, 1109, 25.6);
    drawRuns(ctx, leftTitleLong(' ) ( eV )'), 103, 1049, { fit: 359, rot: -Math.PI / 2, align: 'center' });
    drawRuns(ctx, rightTitleLong('-'), 762, 1012, { fit: 312, rot: Math.PI / 2, align: 'center' });
  });
}

function buildD(canvas: HTMLCanvasElement) {
  const ds: any[] = dSeries.map((s, i) => (i < 2 ? thick(s, dDataColors[i], 2.5) : noisy(s, dDataColors[i])));
  return makeChart(canvas, ds, {
    x: xScale(0, 0.12, true, cdXTicks, cdXLabels, 10),
    y: yScale('left', -0.0102, 0.0233, dYTicks, dYLabels, 25, 17),
    y2: yScale('right', -114, 261.7, dY2Ticks, dY2Labels, 30, 13),
  }, { left: PADL, right: PADR, top: 1291, bottom: 221 }, (c: any) => {
    const ctx = c.ctx, x = c.scales.x, y = c.scales.y, y2 = c.scales.y2;
    const L = R(x.left), Rr = R(x.right), T = R(y.top), B = R(y.bottom);
    ctx.save(); ctx.strokeStyle = AXC; ctx.lineWidth = 1;
    seg(ctx, L, 1330, L, B); seg(ctx, L, B, Rr, B); seg(ctx, Rr, T, Rr, B);
    dYTicks.forEach((v) => { const p = R(y.getPixelForValue(v)); seg(ctx, L, p, L + TL, p); });
    [-100, 0, 100, 200].forEach((v) => { const p = R(y2.getPixelForValue(v)); seg(ctx, Rr, p, Rr - TL, p); });
    cdXTicks.slice(1, -1).forEach((v) => { const p = R(x.getPixelForValue(v)); seg(ctx, p, B, p, B - TL); });
    ctx.restore();
    drawRuns(ctx, [{ t: '(d)' }], 225, 1343, { size: 26, align: 'center' });
    drawRuns(ctx, xTitle, 449, 1491, { fit: 112, align: 'center' });
    drawRuns(ctx, leftTitleShort('|  (eV)'), 103, 1384, { fit: 198, rot: -Math.PI / 2, align: 'center' });
    drawRuns(ctx, rightTitleShort('-'), 762, 1375, { fit: 171, rot: Math.PI / 2, align: 'center' });
  });
}

export default function App() {
  const r1 = useRef<HTMLCanvasElement>(null);
  const r2 = useRef<HTMLCanvasElement>(null);
  const r3 = useRef<HTMLCanvasElement>(null);
  const r4 = useRef<HTMLCanvasElement>(null);
  useEffect(() => {
    const charts = [buildA(r1.current!), buildB(r2.current!), buildC(r3.current!), buildD(r4.current!)];
    return () => charts.forEach((c) => c.destroy());
  }, []);
  const st: React.CSSProperties = { position: 'absolute', left: 0, top: 0, width: 1204, height: 1704 };
  return (
    <div style={{ position: 'absolute', left: 0, top: 0, width: 1204, height: 1704, background: '#fff', overflow: 'hidden' }}>
      <canvas ref={r1} width={1204} height={1704} style={st} />
      <canvas ref={r2} width={1204} height={1704} style={st} />
      <canvas ref={r3} width={1204} height={1704} style={st} />
      <canvas ref={r4} width={1204} height={1704} style={st} />
    </div>
  );
}
